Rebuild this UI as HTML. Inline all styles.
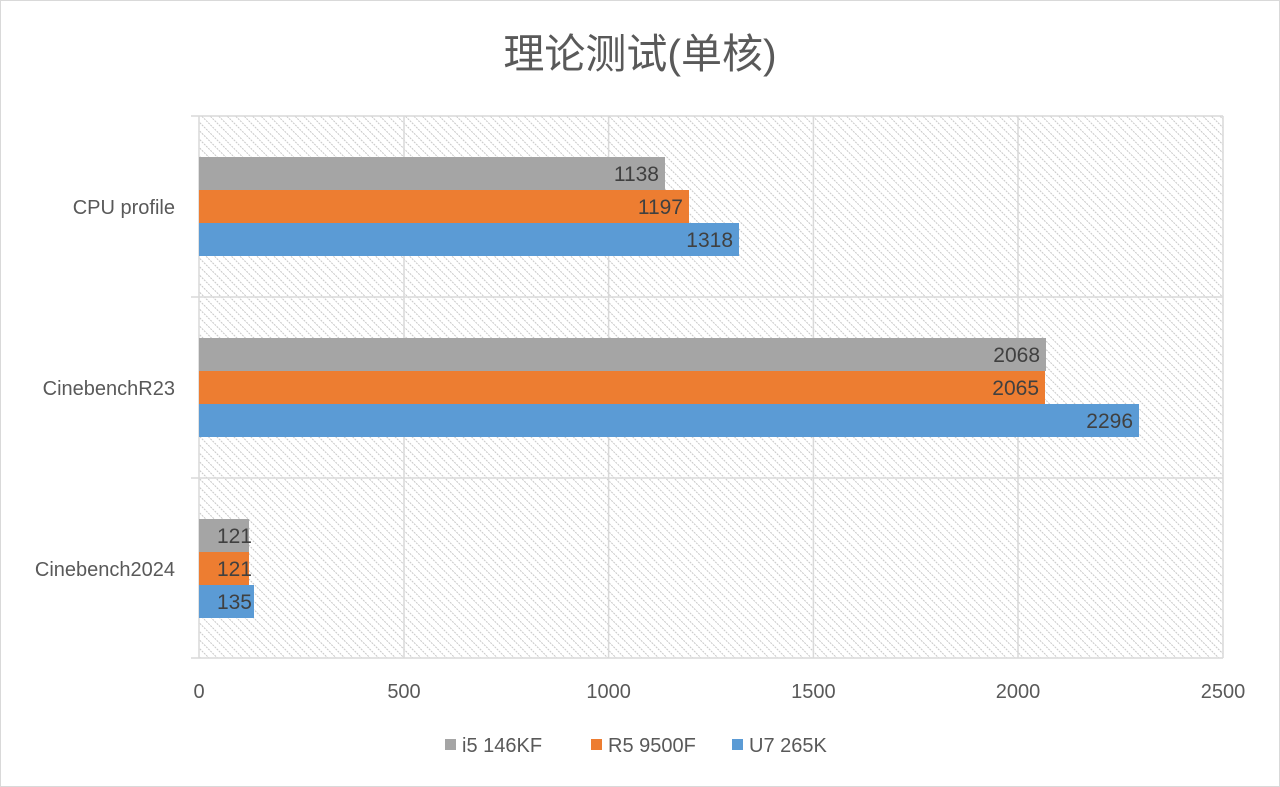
<!DOCTYPE html>
<html><head><meta charset="utf-8"><style>
body{margin:0;background:#fff}
svg{display:block}
text{font-family:"Liberation Sans","Noto Sans CJK SC",sans-serif}
</style></head><body>
<svg width="1280" height="787" viewBox="0 0 1280 787" xmlns="http://www.w3.org/2000/svg">
<defs>
<pattern id="h" width="6" height="6" patternUnits="userSpaceOnUse" patternTransform="rotate(-45)">
<rect width="6" height="6" fill="#fff"/>
<line x1="0" y1="0" x2="0" y2="6" stroke="#c8c8c8" stroke-width="2" stroke-dasharray="2,1"/>
</pattern>
</defs>
<rect x="0.5" y="0.5" width="1279" height="786" fill="#fff" stroke="#d9d9d9"/>
<text x="640" y="68" font-size="41" fill="#595959" text-anchor="middle">理论测试(单核)</text>
<rect x="199" y="116" width="1024" height="542" fill="url(#h)"/>
<g stroke="#d9d9d9" stroke-width="1.5">
<line x1="404" y1="116" x2="404" y2="658"/>
<line x1="608.6" y1="116" x2="608.6" y2="658"/>
<line x1="813.4" y1="116" x2="813.4" y2="658"/>
<line x1="1018" y1="116" x2="1018" y2="658"/>
<line x1="1223" y1="116" x2="1223" y2="658"/>
<line x1="191" y1="116" x2="1223" y2="116"/>
<line x1="191" y1="297" x2="1223" y2="297"/>
<line x1="191" y1="478" x2="1223" y2="478"/>
<line x1="191" y1="658" x2="1223" y2="658"/>
<line x1="199" y1="116" x2="199" y2="658"/>
</g>
<g>
<rect x="199" y="157" width="466" height="33" fill="#a5a5a5"/>
<rect x="199" y="190" width="490" height="33" fill="#ed7d31"/>
<rect x="199" y="223" width="540" height="33" fill="#5b9bd5"/>
<rect x="199" y="338" width="847" height="33" fill="#a5a5a5"/>
<rect x="199" y="371" width="846" height="33" fill="#ed7d31"/>
<rect x="199" y="404" width="940" height="33" fill="#5b9bd5"/>
<rect x="199" y="519" width="50" height="33" fill="#a5a5a5"/>
<rect x="199" y="552" width="50" height="33" fill="#ed7d31"/>
<rect x="199" y="585" width="55" height="33" fill="#5b9bd5"/>
</g>
<g font-size="21" fill="#404040" text-anchor="end">
<text x="659" y="181">1138</text>
<text x="683" y="214">1197</text>
<text x="733" y="247">1318</text>
<text x="1040" y="362">2068</text>
<text x="1039" y="395">2065</text>
<text x="1133" y="428">2296</text>
<text x="252" y="543">121</text>
<text x="252" y="576">121</text>
<text x="252" y="609">135</text>
</g>
<g font-size="20" fill="#595959" text-anchor="end">
<text x="175" y="214">CPU profile</text>
<text x="175" y="395">CinebenchR23</text>
<text x="175" y="576">Cinebench2024</text>
</g>
<g font-size="20" fill="#595959" text-anchor="middle">
<text x="199" y="698">0</text>
<text x="404" y="698">500</text>
<text x="608.6" y="698">1000</text>
<text x="813.4" y="698">1500</text>
<text x="1018" y="698">2000</text>
<text x="1223" y="698">2500</text>
</g>
<g font-size="20" fill="#595959">
<rect x="445" y="739" width="11" height="11" fill="#a5a5a5"/>
<text x="462" y="752">i5 146KF</text>
<rect x="591" y="739" width="11" height="11" fill="#ed7d31"/>
<text x="608" y="752">R5 9500F</text>
<rect x="732" y="739" width="11" height="11" fill="#5b9bd5"/>
<text x="749" y="752">U7 265K</text>
</g>
</svg>
</body></html>
